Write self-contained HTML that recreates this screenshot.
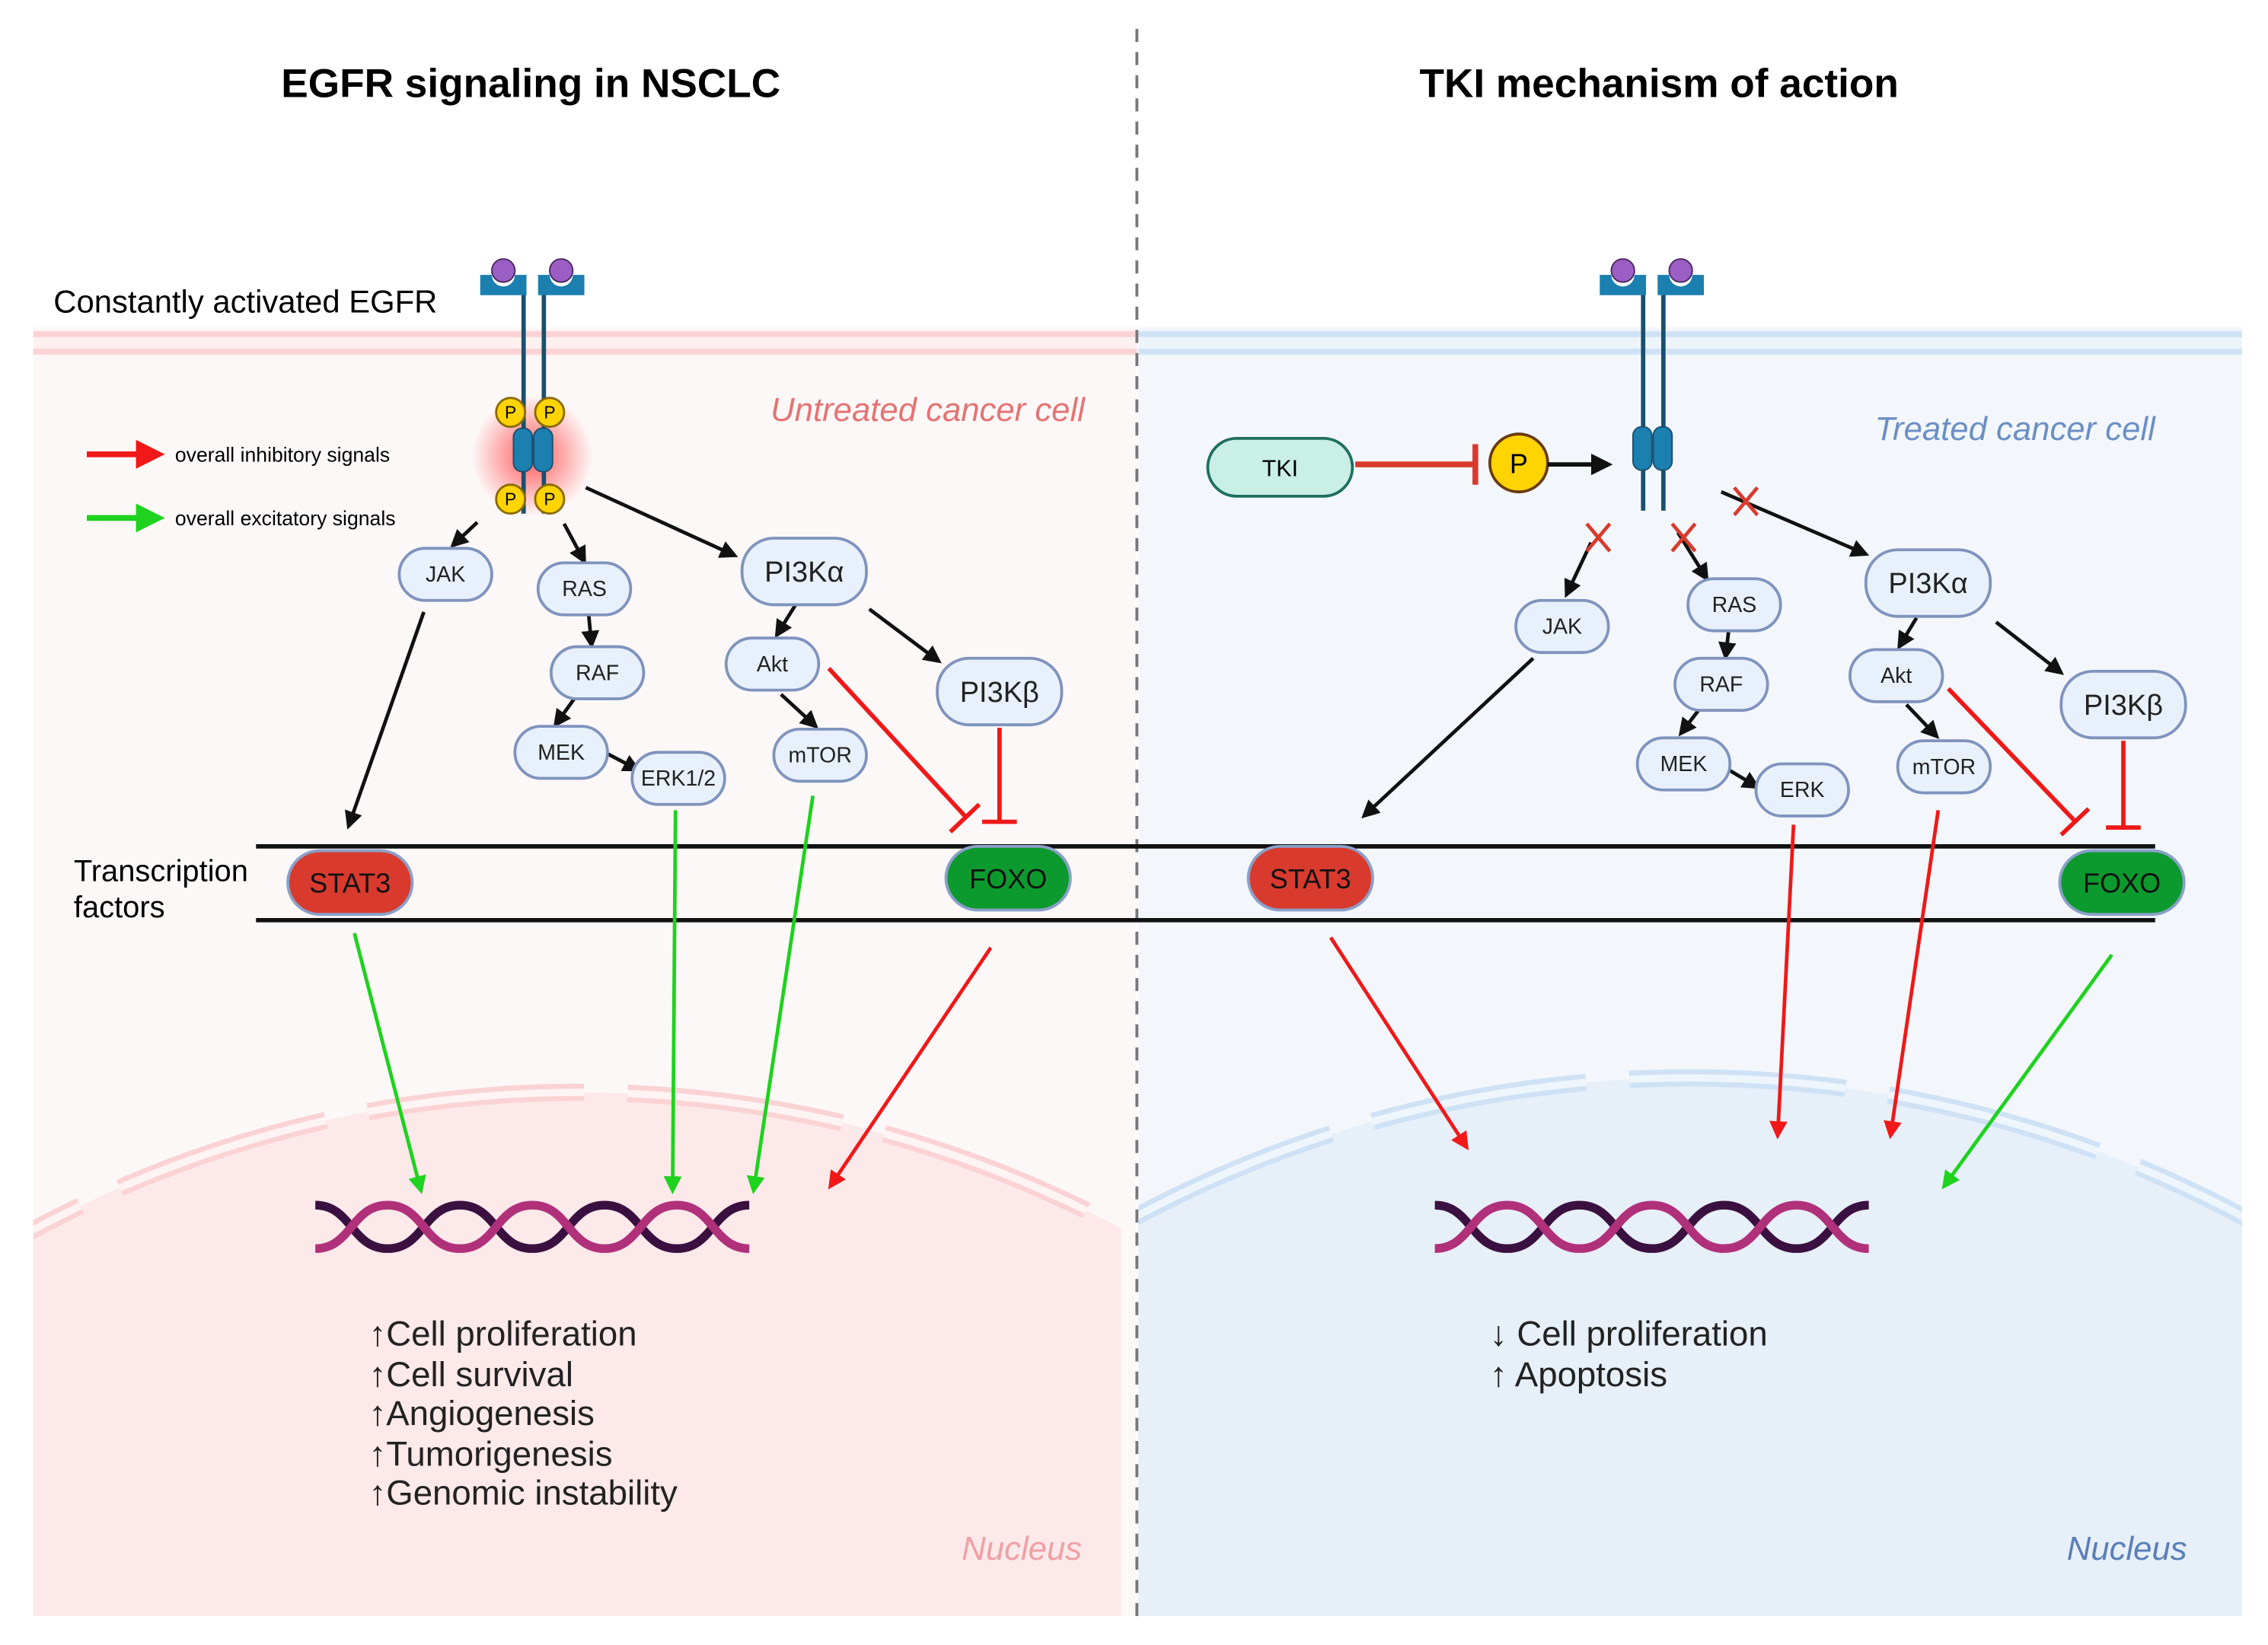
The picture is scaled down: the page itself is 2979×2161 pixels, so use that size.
<!DOCTYPE html>
<html><head><meta charset="utf-8"><style>
html,body{margin:0;padding:0;background:#fff;width:2979px;height:2161px;overflow:hidden}
svg{display:block}
text{font-family:"Liberation Sans",sans-serif}
</style></head><body>
<svg width="2979" height="2161" viewBox="0 0 1568 1137" preserveAspectRatio="none" xmlns="http://www.w3.org/2000/svg">
<defs>
<marker id="ab" viewBox="0 0 10 10" refX="8" refY="5" markerWidth="5" markerHeight="5" orient="auto"><path d="M0,0L10,5L0,10z" fill="#111"/></marker>
<marker id="ar" viewBox="0 0 10 10" refX="8" refY="5" markerWidth="5" markerHeight="5" orient="auto"><path d="M0,0L10,5L0,10z" fill="#f01818"/></marker>
<marker id="ag" viewBox="0 0 10 10" refX="8" refY="5" markerWidth="5" markerHeight="5" orient="auto"><path d="M0,0L10,5L0,10z" fill="#1ed21e"/></marker>
<radialGradient id="glow"><stop offset="0" stop-color="#ff3030" stop-opacity=".8"/><stop offset="1" stop-color="#ff3030" stop-opacity="0"/></radialGradient>
<clipPath id="cl"><rect x="23" y="226" width="752" height="891"/></clipPath>
<clipPath id="cr"><rect x="787" y="226" width="763" height="891"/></clipPath>
</defs>
<rect x="23" y="226" width="763" height="891" fill="#fdf8f8"/>
<rect x="787" y="226" width="763" height="891" fill="#f3f7fc"/>
<rect x="23" y="228" width="763" height="18" fill="#fff0f0"/>
<line x1="23" y1="231" x2="786" y2="231" stroke="#fbd3d4" stroke-width="4"/>
<line x1="23" y1="243" x2="786" y2="243" stroke="#fbd3d4" stroke-width="4"/>
<rect x="787" y="228" width="763" height="18" fill="#eef4fb"/>
<line x1="787" y1="231" x2="1550" y2="231" stroke="#cfe2f5" stroke-width="4"/>
<line x1="787" y1="243" x2="1550" y2="243" stroke="#cfe2f5" stroke-width="4"/>
<g clip-path="url(#cl)">
<circle cx="400" cy="1550" r="795" fill="#fde9ea"/>
<circle cx="400" cy="1550" r="795" fill="none" stroke="#fbd3d4" stroke-width="12" stroke-dasharray="150 30"/>
<circle cx="400" cy="1550" r="795" fill="none" stroke="#fff4f4" stroke-width="5" stroke-dasharray="150 30"/>
</g>
<g clip-path="url(#cr)">
<circle cx="1168" cy="1556" r="811" fill="#e7eff9"/>
<circle cx="1168" cy="1556" r="811" fill="none" stroke="#cfe2f5" stroke-width="12" stroke-dasharray="150 30"/>
<circle cx="1168" cy="1556" r="811" fill="none" stroke="#eef5fc" stroke-width="5" stroke-dasharray="150 30"/>
</g>
<line x1="786" y1="20" x2="786" y2="1117" stroke="#777" stroke-width="2" stroke-dasharray="9 7"/>
<text x="367" y="67" font-size="28" font-weight="bold" text-anchor="middle">EGFR signaling in NSCLC</text>
<text x="1147" y="67" font-size="28" font-weight="bold" text-anchor="middle">TKI mechanism of action</text>
<text x="37" y="216" font-size="22">Constantly activated EGFR</text>
<text x="750" y="291" font-size="23" font-style="italic" fill="#e57373" text-anchor="end">Untreated cancer cell</text>
<text x="1490" y="304" font-size="23" font-style="italic" fill="#6b8fc4" text-anchor="end">Treated cancer cell</text>
<line x1="60" y1="314" x2="110" y2="314" stroke="#f01818" stroke-width="4" marker-end="url(#ar)"/>
<text x="121" y="319" font-size="14">overall inhibitory signals</text>
<line x1="60" y1="358" x2="110" y2="358" stroke="#1ed21e" stroke-width="4" marker-end="url(#ag)"/>
<text x="121" y="363" font-size="14">overall excitatory signals</text>
<circle cx="368" cy="315" r="42" fill="url(#glow)"/>
<g stroke="#1a4f6e" stroke-width="3"><line x1="362" y1="195" x2="362" y2="355"/><line x1="376" y1="195" x2="376" y2="355"/></g>
<circle cx="348" cy="187" r="8" fill="#9b5ec4" stroke="#4a2a60"/>
<circle cx="388" cy="187" r="8" fill="#9b5ec4" stroke="#4a2a60"/>
<path d="M332,190 h8 a8,8 0 0 0 16,0 h8 v14 h-32z" fill="#1b7fb0"/>
<path d="M372,190 h8 a8,8 0 0 0 16,0 h8 v14 h-32z" fill="#1b7fb0"/>
<rect x="355" y="296" width="13" height="30" rx="6" fill="#1b7fb0" stroke="#1a4f6e"/>
<rect x="369" y="296" width="13" height="30" rx="6" fill="#1b7fb0" stroke="#1a4f6e"/>
<g fill="#ffd400" stroke="#8a6a00" stroke-width="1.5"><circle cx="353" cy="285" r="10"/><circle cx="380" cy="285" r="10"/><circle cx="353" cy="345" r="10"/><circle cx="380" cy="345" r="10"/></g>
<g font-size="12" text-anchor="middle"><text x="353" y="289">P</text><text x="380" y="289">P</text><text x="353" y="349">P</text><text x="380" y="349">P</text></g>
<g stroke="#1a4f6e" stroke-width="3"><line x1="1136" y1="195" x2="1136" y2="353"/><line x1="1150" y1="195" x2="1150" y2="353"/></g>
<circle cx="1122" cy="187" r="8" fill="#9b5ec4" stroke="#4a2a60"/>
<circle cx="1162" cy="187" r="8" fill="#9b5ec4" stroke="#4a2a60"/>
<path d="M1106,190 h8 a8,8 0 0 0 16,0 h8 v14 h-32z" fill="#1b7fb0"/>
<path d="M1146,190 h8 a8,8 0 0 0 16,0 h8 v14 h-32z" fill="#1b7fb0"/>
<rect x="1129" y="295" width="13" height="30" rx="6" fill="#1b7fb0" stroke="#1a4f6e"/>
<rect x="1143" y="295" width="13" height="30" rx="6" fill="#1b7fb0" stroke="#1a4f6e"/>
<rect x="835" y="303" width="100" height="40" rx="20" fill="#c9efe7" stroke="#1f6f5f" stroke-width="2"/>
<text x="885" y="329" font-size="16" text-anchor="middle">TKI</text>
<line x1="937" y1="321" x2="1020" y2="321" stroke="#d93a2e" stroke-width="4"/>
<line x1="1020" y1="307" x2="1020" y2="335" stroke="#d93a2e" stroke-width="4"/>
<circle cx="1050" cy="320" r="20" fill="#ffd400" stroke="#6a3a10" stroke-width="2"/>
<text x="1050" y="327" font-size="19" text-anchor="middle">P</text>
<line x1="1070" y1="321" x2="1112" y2="321" stroke="#111" stroke-width="3" marker-end="url(#ab)"/>
<g stroke="#111" stroke-width="2.5" marker-end="url(#ab)" fill="none">
<line x1="330" y1="361" x2="313" y2="377"/>
<line x1="390" y1="362" x2="404" y2="388"/>
<line x1="405" y1="337" x2="508" y2="384"/>
<line x1="407" y1="425" x2="409" y2="446"/>
<line x1="397" y1="483" x2="384" y2="501"/>
<line x1="420" y1="521" x2="441" y2="532"/>
<line x1="550" y1="418" x2="537" y2="439"/>
<line x1="601" y1="421" x2="649" y2="457"/>
<line x1="540" y1="480" x2="564" y2="502"/>
<line x1="293" y1="423" x2="241" y2="571"/>
<line x1="1100" y1="375" x2="1083" y2="411"/>
<line x1="1160" y1="368" x2="1180" y2="400"/>
<line x1="1190" y1="340" x2="1290" y2="383"/>
<line x1="1195" y1="437" x2="1193" y2="454"/>
<line x1="1175" y1="490" x2="1162" y2="507"/>
<line x1="1195" y1="532" x2="1215" y2="544"/>
<line x1="1325" y1="427" x2="1313" y2="447"/>
<line x1="1380" y1="430" x2="1425" y2="465"/>
<line x1="1318" y1="487" x2="1339" y2="509"/>
<line x1="1060" y1="455" x2="943" y2="564"/>
</g>
<g stroke="#d93a2e" stroke-width="2.5">
<line x1="1097" y1="362" x2="1113" y2="381"/><line x1="1113" y1="362" x2="1097" y2="381"/>
<line x1="1156" y1="362" x2="1172" y2="381"/><line x1="1172" y1="362" x2="1156" y2="381"/>
<line x1="1199" y1="337" x2="1215" y2="356"/><line x1="1215" y1="337" x2="1199" y2="356"/>
</g>
<g stroke="#f01818" stroke-width="3">
<line x1="573" y1="462" x2="668" y2="565"/><line x1="657" y1="575" x2="677" y2="556"/>
<line x1="691" y1="503" x2="691" y2="568"/><line x1="679" y1="568" x2="703" y2="568"/>
<line x1="1347" y1="476" x2="1435" y2="568"/><line x1="1425" y1="577" x2="1444" y2="559"/>
<line x1="1468" y1="512" x2="1468" y2="572"/><line x1="1456" y1="572" x2="1480" y2="572"/>
</g>
<g fill="#e8f1fb" stroke="#7f93bd" stroke-width="2">
<rect x="276" y="379" width="64" height="36" rx="18"/>
<rect x="372" y="389" width="64" height="36" rx="18"/>
<rect x="381" y="447" width="64" height="36" rx="18"/>
<rect x="356" y="502" width="64" height="36" rx="18"/>
<rect x="437" y="520" width="64" height="36" rx="18"/>
<rect x="513" y="372" width="86" height="46" rx="22"/>
<rect x="502" y="441" width="64" height="36" rx="18"/>
<rect x="535" y="504" width="64" height="36" rx="18"/>
<rect x="648" y="455" width="86" height="46" rx="22"/>
<rect x="1048" y="415" width="64" height="36" rx="18"/>
<rect x="1167" y="400" width="64" height="36" rx="18"/>
<rect x="1158" y="455" width="64" height="36" rx="18"/>
<rect x="1132" y="510" width="64" height="36" rx="18"/>
<rect x="1214" y="528" width="64" height="36" rx="18"/>
<rect x="1290" y="380" width="86" height="46" rx="22"/>
<rect x="1279" y="449" width="64" height="36" rx="18"/>
<rect x="1312" y="512" width="64" height="36" rx="18"/>
<rect x="1425" y="464" width="86" height="46" rx="22"/>
</g>
<g font-size="15" text-anchor="middle" fill="#222">
<text x="308" y="402">JAK</text><text x="404" y="412">RAS</text><text x="413" y="470">RAF</text>
<text x="388" y="525">MEK</text><text x="469" y="543">ERK1/2</text><text x="534" y="464">Akt</text>
<text x="567" y="527">mTOR</text>
<text x="1080" y="438">JAK</text><text x="1199" y="423">RAS</text><text x="1190" y="478">RAF</text>
<text x="1164" y="533">MEK</text><text x="1246" y="551">ERK</text><text x="1311" y="472">Akt</text>
<text x="1344" y="535">mTOR</text>
</g>
<g font-size="20" text-anchor="middle" fill="#222">
<text x="556" y="402">PI3Kα</text><text x="691" y="485">PI3Kβ</text>
<text x="1333" y="410">PI3Kα</text><text x="1468" y="494">PI3Kβ</text>
</g>
<line x1="177" y1="585" x2="1490" y2="585" stroke="#111" stroke-width="3"/>
<line x1="177" y1="636" x2="1490" y2="636" stroke="#111" stroke-width="3"/>
<text x="51" y="609" font-size="21">Transcription</text>
<text x="51" y="634" font-size="21">factors</text>
<g stroke="#8aa0c8" stroke-width="2">
<rect x="199" y="588" width="86" height="44" rx="22" fill="#d93a2e"/>
<rect x="654" y="585" width="86" height="44" rx="22" fill="#0c9a2e"/>
<rect x="863" y="585" width="86" height="44" rx="22" fill="#d93a2e"/>
<rect x="1424" y="588" width="86" height="44" rx="22" fill="#0c9a2e"/>
</g>
<g font-size="19" text-anchor="middle" fill="#111">
<text x="242" y="617">STAT3</text><text x="697" y="614">FOXO</text>
<text x="906" y="614">STAT3</text><text x="1467" y="617">FOXO</text>
</g>
<g stroke-width="2.5">
<line x1="245" y1="645" x2="291" y2="823" stroke="#1ed21e" marker-end="url(#ag)"/>
<line x1="467" y1="560" x2="465" y2="823" stroke="#1ed21e" marker-end="url(#ag)"/>
<line x1="562" y1="550" x2="521" y2="823" stroke="#1ed21e" marker-end="url(#ag)"/>
<line x1="685" y1="655" x2="574" y2="820" stroke="#f01818" marker-end="url(#ar)"/>
<line x1="920" y1="648" x2="1014" y2="793" stroke="#f01818" marker-end="url(#ar)"/>
<line x1="1240" y1="570" x2="1229" y2="785" stroke="#f01818" marker-end="url(#ar)"/>
<line x1="1340" y1="560" x2="1307" y2="785" stroke="#f01818" marker-end="url(#ar)"/>
<line x1="1460" y1="660" x2="1344" y2="820" stroke="#1ed21e" marker-end="url(#ag)"/>
</g>
<g fill="none" stroke-width="6">
<path d="M218,833 C243,833 243,863 268,863 C293,863 293,833 318,833 C343,833 343,863 368,863 C393,863 393,833 418,833 C443,833 443,863 468,863 C493,863 493,833 518,833" stroke="#3a1040"/>
<path d="M218,863 C243,863 243,833 268,833 C293,833 293,863 318,863 C343,863 343,833 368,833 C393,833 393,863 418,863 C443,863 443,833 468,833 C493,833 493,863 518,863" stroke="#b0307a"/>
<path d="M992,833 C1017,833 1017,863 1042,863 C1067,863 1067,833 1092,833 C1117,833 1117,863 1142,863 C1167,863 1167,833 1192,833 C1217,833 1217,863 1242,863 C1267,863 1267,833 1292,833" stroke="#3a1040"/>
<path d="M992,863 C1017,863 1017,833 1042,833 C1067,833 1067,863 1092,863 C1117,863 1117,833 1142,833 C1167,833 1167,863 1192,863 C1217,863 1217,833 1242,833 C1267,833 1267,863 1292,863" stroke="#b0307a"/>
</g>
<g font-size="24" fill="#222">
<text x="255" y="930">↑Cell proliferation</text>
<text x="255" y="958">↑Cell survival</text>
<text x="255" y="985">↑Angiogenesis</text>
<text x="255" y="1013">↑Tumorigenesis</text>
<text x="255" y="1040">↑Genomic instability</text>
<text x="1030" y="930">↓ Cell proliferation</text>
<text x="1030" y="958">↑ Apoptosis</text>
</g>
<text x="748" y="1078" font-size="23" font-style="italic" fill="#f0a0a4" text-anchor="end">Nucleus</text>
<text x="1512" y="1078" font-size="23" font-style="italic" fill="#5a7fb8" text-anchor="end">Nucleus</text>
</svg>
</body></html>
